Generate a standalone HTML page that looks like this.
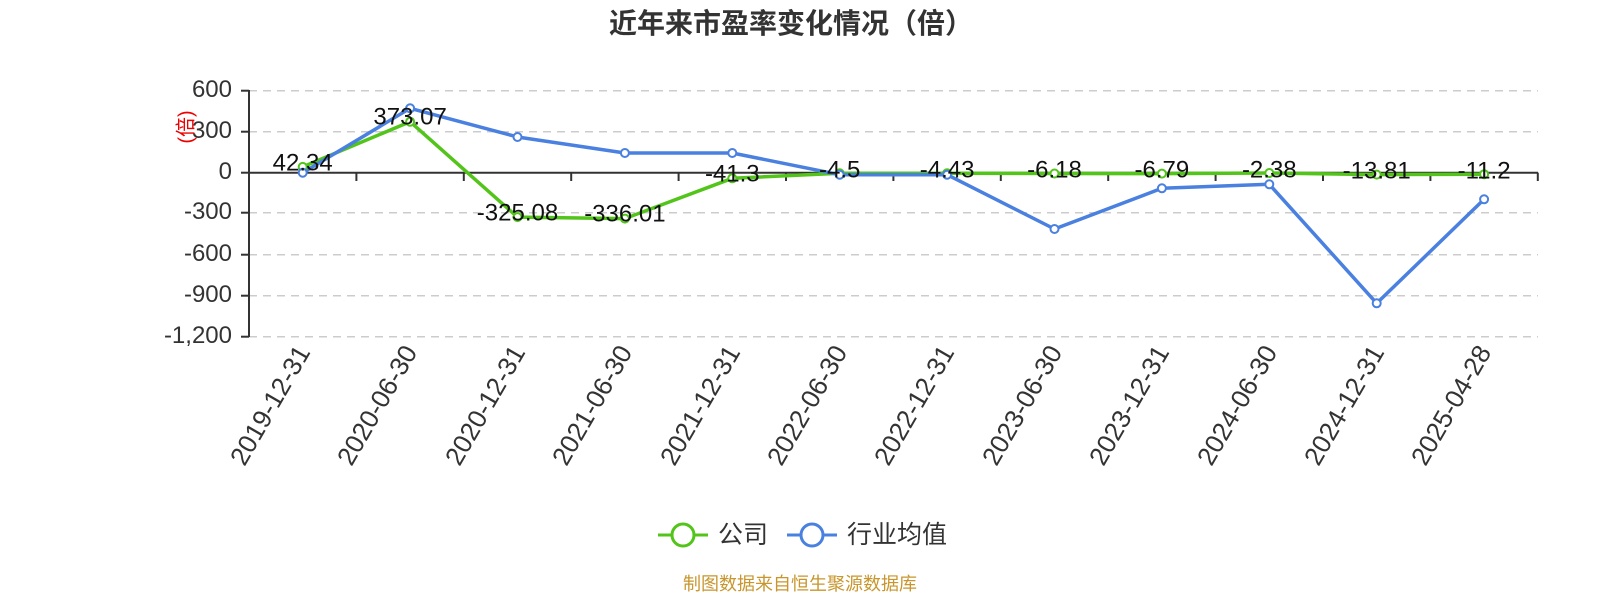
<!DOCTYPE html>
<html><head><meta charset="utf-8"><style>
html,body{margin:0;padding:0;background:#fff;}
svg{display:block;font-family:"Liberation Sans","Noto Sans CJK SC",sans-serif;}
</style></head><body>
<svg width="1600" height="600" viewBox="0 0 1600 600">
<text x="791" y="33" text-anchor="middle" font-size="28" font-weight="bold" fill="#333">近年来市盈率变化情况（倍）</text>
<g stroke="#ccc" stroke-width="1.5" stroke-dasharray="8,6">
<line x1="249" y1="90.7" x2="1538" y2="90.7"/>
<line x1="249" y1="131.7" x2="1538" y2="131.7"/>
<line x1="249" y1="212.7" x2="1538" y2="212.7"/>
<line x1="249" y1="254.7" x2="1538" y2="254.7"/>
<line x1="249" y1="295.7" x2="1538" y2="295.7"/>
<line x1="249" y1="336.7" x2="1538" y2="336.7"/>
</g>
<g stroke="#333" stroke-width="2">
<line x1="249" y1="90" x2="249" y2="337"/>
<line x1="241" y1="90.7" x2="249" y2="90.7"/>
<line x1="241" y1="131.7" x2="249" y2="131.7"/>
<line x1="241" y1="172.7" x2="249" y2="172.7"/>
<line x1="241" y1="212.7" x2="249" y2="212.7"/>
<line x1="241" y1="254.7" x2="249" y2="254.7"/>
<line x1="241" y1="295.7" x2="249" y2="295.7"/>
<line x1="241" y1="336.7" x2="249" y2="336.7"/>
<line x1="249" y1="172.7" x2="1538" y2="172.7"/>
<line x1="356.4" y1="172.7" x2="356.4" y2="181"/>
<line x1="463.8" y1="172.7" x2="463.8" y2="181"/>
<line x1="571.2" y1="172.7" x2="571.2" y2="181"/>
<line x1="678.6" y1="172.7" x2="678.6" y2="181"/>
<line x1="786" y1="172.7" x2="786" y2="181"/>
<line x1="893.4" y1="172.7" x2="893.4" y2="181"/>
<line x1="1000.8" y1="172.7" x2="1000.8" y2="181"/>
<line x1="1108.2" y1="172.7" x2="1108.2" y2="181"/>
<line x1="1215.6" y1="172.7" x2="1215.6" y2="181"/>
<line x1="1323" y1="172.7" x2="1323" y2="181"/>
<line x1="1430.4" y1="172.7" x2="1430.4" y2="181"/>
<line x1="1537.8" y1="172.7" x2="1537.8" y2="181"/>
</g>
<g font-size="24" fill="#333" text-anchor="end" dominant-baseline="middle">
<text x="232" y="90.7">600</text>
<text x="232" y="131.7">300</text>
<text x="232" y="172.7">0</text>
<text x="232" y="212.7">-300</text>
<text x="232" y="254.7">-600</text>
<text x="232" y="295.7">-900</text>
<text x="232" y="336.7">-1,200</text>
</g>
<text x="0" y="0" transform="translate(187,127) rotate(-90)" text-anchor="middle" dominant-baseline="middle" font-size="20" fill="#e00">(倍)</text>
<g font-size="26" fill="#333" text-anchor="end">
<text transform="translate(311,352) rotate(-60)">2019-12-31</text>
<text transform="translate(418,352) rotate(-60)">2020-06-30</text>
<text transform="translate(526,352) rotate(-60)">2020-12-31</text>
<text transform="translate(633,352) rotate(-60)">2021-06-30</text>
<text transform="translate(741,352) rotate(-60)">2021-12-31</text>
<text transform="translate(848,352) rotate(-60)">2022-06-30</text>
<text transform="translate(955,352) rotate(-60)">2022-12-31</text>
<text transform="translate(1063,352) rotate(-60)">2023-06-30</text>
<text transform="translate(1170,352) rotate(-60)">2023-12-31</text>
<text transform="translate(1278,352) rotate(-60)">2024-06-30</text>
<text transform="translate(1385,352) rotate(-60)">2024-12-31</text>
<text transform="translate(1492,352) rotate(-60)">2025-04-28</text>
</g>
<polyline fill="none" stroke="#52c41a" stroke-width="3.5" stroke-linejoin="round" points="302.7,166.9 410.1,121.7 517.5,217.1 624.9,218.6 732.3,178.3 839.7,173.3 947.1,173.3 1054.5,173.5 1161.9,173.6 1269.3,173.0 1376.7,174.6 1484.1,174.2"/>
<polyline fill="none" stroke="#4a80e0" stroke-width="3.5" stroke-linejoin="round" points="302.7,172.7 410.1,108.3 517.5,137 624.9,153 732.3,153 839.7,174.7 947.1,174.7 1054.5,229 1161.9,188.3 1269.3,184.3 1376.7,303.3 1484.1,199.3"/>
<g fill="#fff" stroke="#52c41a" stroke-width="2">
<circle cx="302.7" cy="166.9" r="4"/><circle cx="410.1" cy="121.7" r="4"/><circle cx="517.5" cy="217.1" r="4"/><circle cx="624.9" cy="218.6" r="4"/><circle cx="732.3" cy="178.3" r="4"/><circle cx="839.7" cy="173.3" r="4"/><circle cx="947.1" cy="173.3" r="4"/><circle cx="1054.5" cy="173.5" r="4"/><circle cx="1161.9" cy="173.6" r="4"/><circle cx="1269.3" cy="173.0" r="4"/><circle cx="1376.7" cy="174.6" r="4"/><circle cx="1484.1" cy="174.2" r="4"/>
</g>
<g fill="#fff" stroke="#4a80e0" stroke-width="2">
<circle cx="302.7" cy="172.7" r="4"/><circle cx="410.1" cy="108.3" r="4"/><circle cx="517.5" cy="137" r="4"/><circle cx="624.9" cy="153" r="4"/><circle cx="732.3" cy="153" r="4"/><circle cx="839.7" cy="174.7" r="4"/><circle cx="947.1" cy="174.7" r="4"/><circle cx="1054.5" cy="229" r="4"/><circle cx="1161.9" cy="188.3" r="4"/><circle cx="1269.3" cy="184.3" r="4"/><circle cx="1376.7" cy="303.3" r="4"/><circle cx="1484.1" cy="199.3" r="4"/>
</g>
<g font-size="24" fill="#111" text-anchor="middle" dominant-baseline="middle">
<text x="302.7" y="164">42.34</text>
<text x="410.1" y="118">373.07</text>
<text x="517.5" y="214">-325.08</text>
<text x="624.9" y="215">-336.01</text>
<text x="732.3" y="175">-41.3</text>
<text x="839.7" y="171">-4.5</text>
<text x="947.1" y="171">-4.43</text>
<text x="1054.5" y="171">-6.18</text>
<text x="1161.9" y="171">-6.79</text>
<text x="1269.3" y="171">-2.38</text>
<text x="1376.7" y="172">-13.81</text>
<text x="1484.1" y="172">-11.2</text>
</g>
<g>
<line x1="658" y1="535" x2="708" y2="535" stroke="#52c41a" stroke-width="3"/>
<circle cx="683" cy="535" r="11" fill="#fff" stroke="#52c41a" stroke-width="3"/>
<text x="718" y="543" font-size="25" fill="#333">公司</text>
<line x1="787" y1="535" x2="837" y2="535" stroke="#4a80e0" stroke-width="3"/>
<circle cx="812" cy="535" r="11" fill="#fff" stroke="#4a80e0" stroke-width="3"/>
<text x="847" y="543" font-size="25" fill="#333">行业均值</text>
</g>
<text x="800" y="590" text-anchor="middle" font-size="18" fill="#c9962d">制图数据来自恒生聚源数据库</text>
</svg>
</body></html>
